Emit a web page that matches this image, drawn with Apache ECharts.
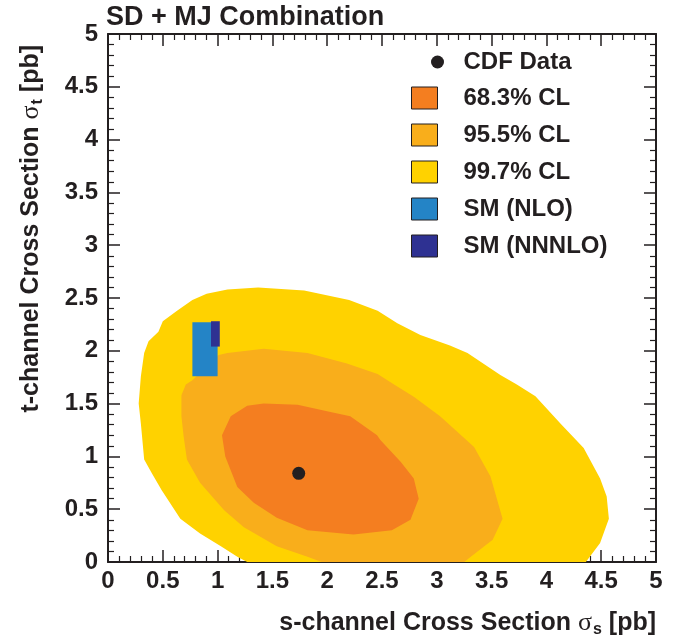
<!DOCTYPE html>
<html><head><meta charset="utf-8">
<script src="https://cdn.jsdelivr.net/npm/echarts@6/dist/echarts.min.js"></script>
<style>html,body{margin:0;padding:0;background:#fff}#c{width:683px;height:640px}</style>
</head><body><div id="c"></div>
<script>
// ---- data (s-channel sigma_s [pb], t-channel sigma_t [pb]) ----
const titleText = 'SD + MJ Combination';
const legendNames = ['CDF Data', '68.3% CL', '95.5% CL', '99.7% CL', 'SM (NLO)', 'SM (NNNLO)'];
const cdfData = [[1.74, 0.84]];
const cl997 = [[1.27,0],[1.18,0.05],[1.03,0.15],[0.84,0.27],[0.66,0.41],[0.49,0.68],[0.40,0.84],[0.33,0.97],[0.30,1.31],[0.28,1.50],[0.30,1.76],[0.33,1.98],[0.37,2.09],[0.46,2.18],[0.50,2.28],[0.63,2.38],[0.77,2.48],[0.90,2.54],[1.09,2.58],[1.37,2.60],[1.79,2.57],[2.20,2.48],[2.46,2.38],[2.64,2.26],[2.85,2.15],[3.12,2.05],[3.28,1.98],[3.58,1.77],[3.73,1.68],[3.90,1.57],[4.13,1.31],[4.34,1.08],[4.49,0.79],[4.55,0.62],[4.57,0.41],[4.49,0.18],[4.36,0]];
const cl955 = [[1.95,0],[1.82,0.05],[1.54,0.15],[1.24,0.33],[1.06,0.49],[0.84,0.75],[0.72,0.97],[0.69,1.19],[0.67,1.38],[0.67,1.58],[0.71,1.68],[0.77,1.72],[1.01,1.96],[1.09,1.98],[1.42,2.02],[1.82,1.98],[2.18,1.88],[2.46,1.78],[2.61,1.68],[2.79,1.565],[3.03,1.38],[3.34,1.09],[3.49,0.81],[3.60,0.41],[3.51,0.21],[3.31,0.05],[3.25,0]];
const cl683 = [[1.42,1.50],[1.27,1.48],[1.12,1.38],[1.04,1.20],[1.07,1.00],[1.18,0.71],[1.33,0.56],[1.54,0.42],[1.82,0.30],[2.24,0.26],[2.59,0.30],[2.76,0.40],[2.835,0.60],[2.79,0.79],[2.67,0.95],[2.485,1.155],[2.455,1.20],[2.21,1.38],[2.03,1.42],[1.73,1.49]];
// [sMin, sMax, tMin, tMax]
const smNLO = [0.77, 1.00, 1.76, 2.27];
const smNNNLO = [0.94, 1.02, 2.04, 2.28];

const INK = '#231f20';
const FONT = 'Liberation Sans, Arial, Helvetica, sans-serif';
const colors = { c683: '#f47e20', c955: '#f9ae1b', c997: '#ffd200', nlo: '#2484c6', nnnlo: '#2e3192' };

function polySeries(name, pts, color, z) {
  return {
    type: 'custom', name: name, coordinateSystem: 'cartesian2d', clip: true, z: z,
    itemStyle: { color: color }, silent: true,
    data: [pts[0]],
    renderItem: function (params, api) {
      return { type: 'polygon', shape: { points: pts.map(function (p) { return api.coord(p); }) }, style: { fill: color } };
    }
  };
}
function boxSeries(name, b, color, z) {
  const pts = [[b[0], b[2]], [b[1], b[2]], [b[1], b[3]], [b[0], b[3]]];
  return polySeries(name, pts, color, z);
}

const axisCommon = {
  type: 'value', min: 0, max: 5, interval: 0.5,
  axisLine: { show: true, onZero: false, lineStyle: { color: INK, width: 2 } },
  axisTick: { show: true, inside: true, length: 12, lineStyle: { color: INK, width: 1.5 } },
  minorTick: { show: true, splitNumber: 5, length: 6, lineStyle: { color: INK, width: 1.2 } },
  splitLine: { show: false },
  minorSplitLine: { show: false }
};
const labelStyle = { fontSize: 24, fontWeight: 'bold', color: INK, fontFamily: FONT };
const richName = {
  b: { fontSize: 25, fontWeight: 'bold', color: INK, fontFamily: FONT },
  g: { fontSize: 26, fontWeight: 'normal', color: INK, fontFamily: 'Liberation Serif, DejaVu Serif, serif' },
  sub: { fontSize: 16, fontWeight: 'bold', color: INK, fontFamily: FONT, padding: [14, 0, 0, 1] }
};

const option = {
  animation: false,
  backgroundColor: '#fff',
  title: { text: titleText, left: 106, top: 4, padding: 0,
    textStyle: { fontSize: 27, fontWeight: 'bold', color: INK, fontFamily: FONT } },
  grid: { left: 108, right: 27, top: 34, bottom: 78, containLabel: false },
  legend: [
    { data: [legendNames[0]], orient: 'vertical', left: 431, top: 50, padding: 0,
      icon: 'circle', itemWidth: 42, itemHeight: 13,
      itemStyle: { borderWidth: 0, opacity: 1 },
      textStyle: { fontSize: 24, fontWeight: 'bold', color: INK, fontFamily: FONT } },
    { data: legendNames.slice(1), orient: 'vertical', left: 411, top: 86, padding: 0,
      icon: 'rect', itemWidth: 26, itemHeight: 22, itemGap: 13,
      itemStyle: { borderColor: INK, borderWidth: 1 },
      textStyle: { fontSize: 24, fontWeight: 'bold', color: INK, fontFamily: FONT, padding: [0, 0, 0, 21] } }
  ],
  xAxis: [
    Object.assign({}, axisCommon, {
      position: 'bottom',
      axisLabel: Object.assign({ margin: 7 }, labelStyle),
      name: '{b|s-channel Cross Section }{g|σ}{sub|s}{b| [pb]}',
      nameLocation: 'end', nameGap: 0,
      nameTextStyle: { align: 'right', verticalAlign: 'top', padding: [46, 0, 0, 0], rich: richName }
    }),
    Object.assign({}, axisCommon, { position: 'top', axisLabel: { show: false } })
  ],
  yAxis: [
    Object.assign({}, axisCommon, {
      position: 'left',
      axisLabel: Object.assign({ margin: 10 }, labelStyle),
      name: '{b|t-channel Cross Section }{g|σ}{sub|t}{b| [pb]}',
      nameLocation: 'end', nameGap: -11, nameRotate: 90,
      nameTextStyle: { align: 'right', verticalAlign: 'bottom', padding: [0, 0, 62, 0], rich: richName }
    }),
    Object.assign({}, axisCommon, { position: 'right', axisLabel: { show: false } })
  ],
  series: [
    polySeries(legendNames[3], cl997, colors.c997, 1),
    polySeries(legendNames[2], cl955, colors.c955, 2),
    polySeries(legendNames[1], cl683, colors.c683, 3),
    boxSeries(legendNames[4], smNLO, colors.nlo, 4),
    boxSeries(legendNames[5], smNNNLO, colors.nnnlo, 5),
    { type: 'scatter', name: legendNames[0], data: cdfData, symbol: 'circle', symbolSize: 13,
      itemStyle: { color: INK, opacity: 1 }, z: 6, silent: true }
  ]
};
const chart = echarts.init(document.getElementById('c'), null, { renderer: 'canvas' });
chart.setOption(option);
</script></body></html>
